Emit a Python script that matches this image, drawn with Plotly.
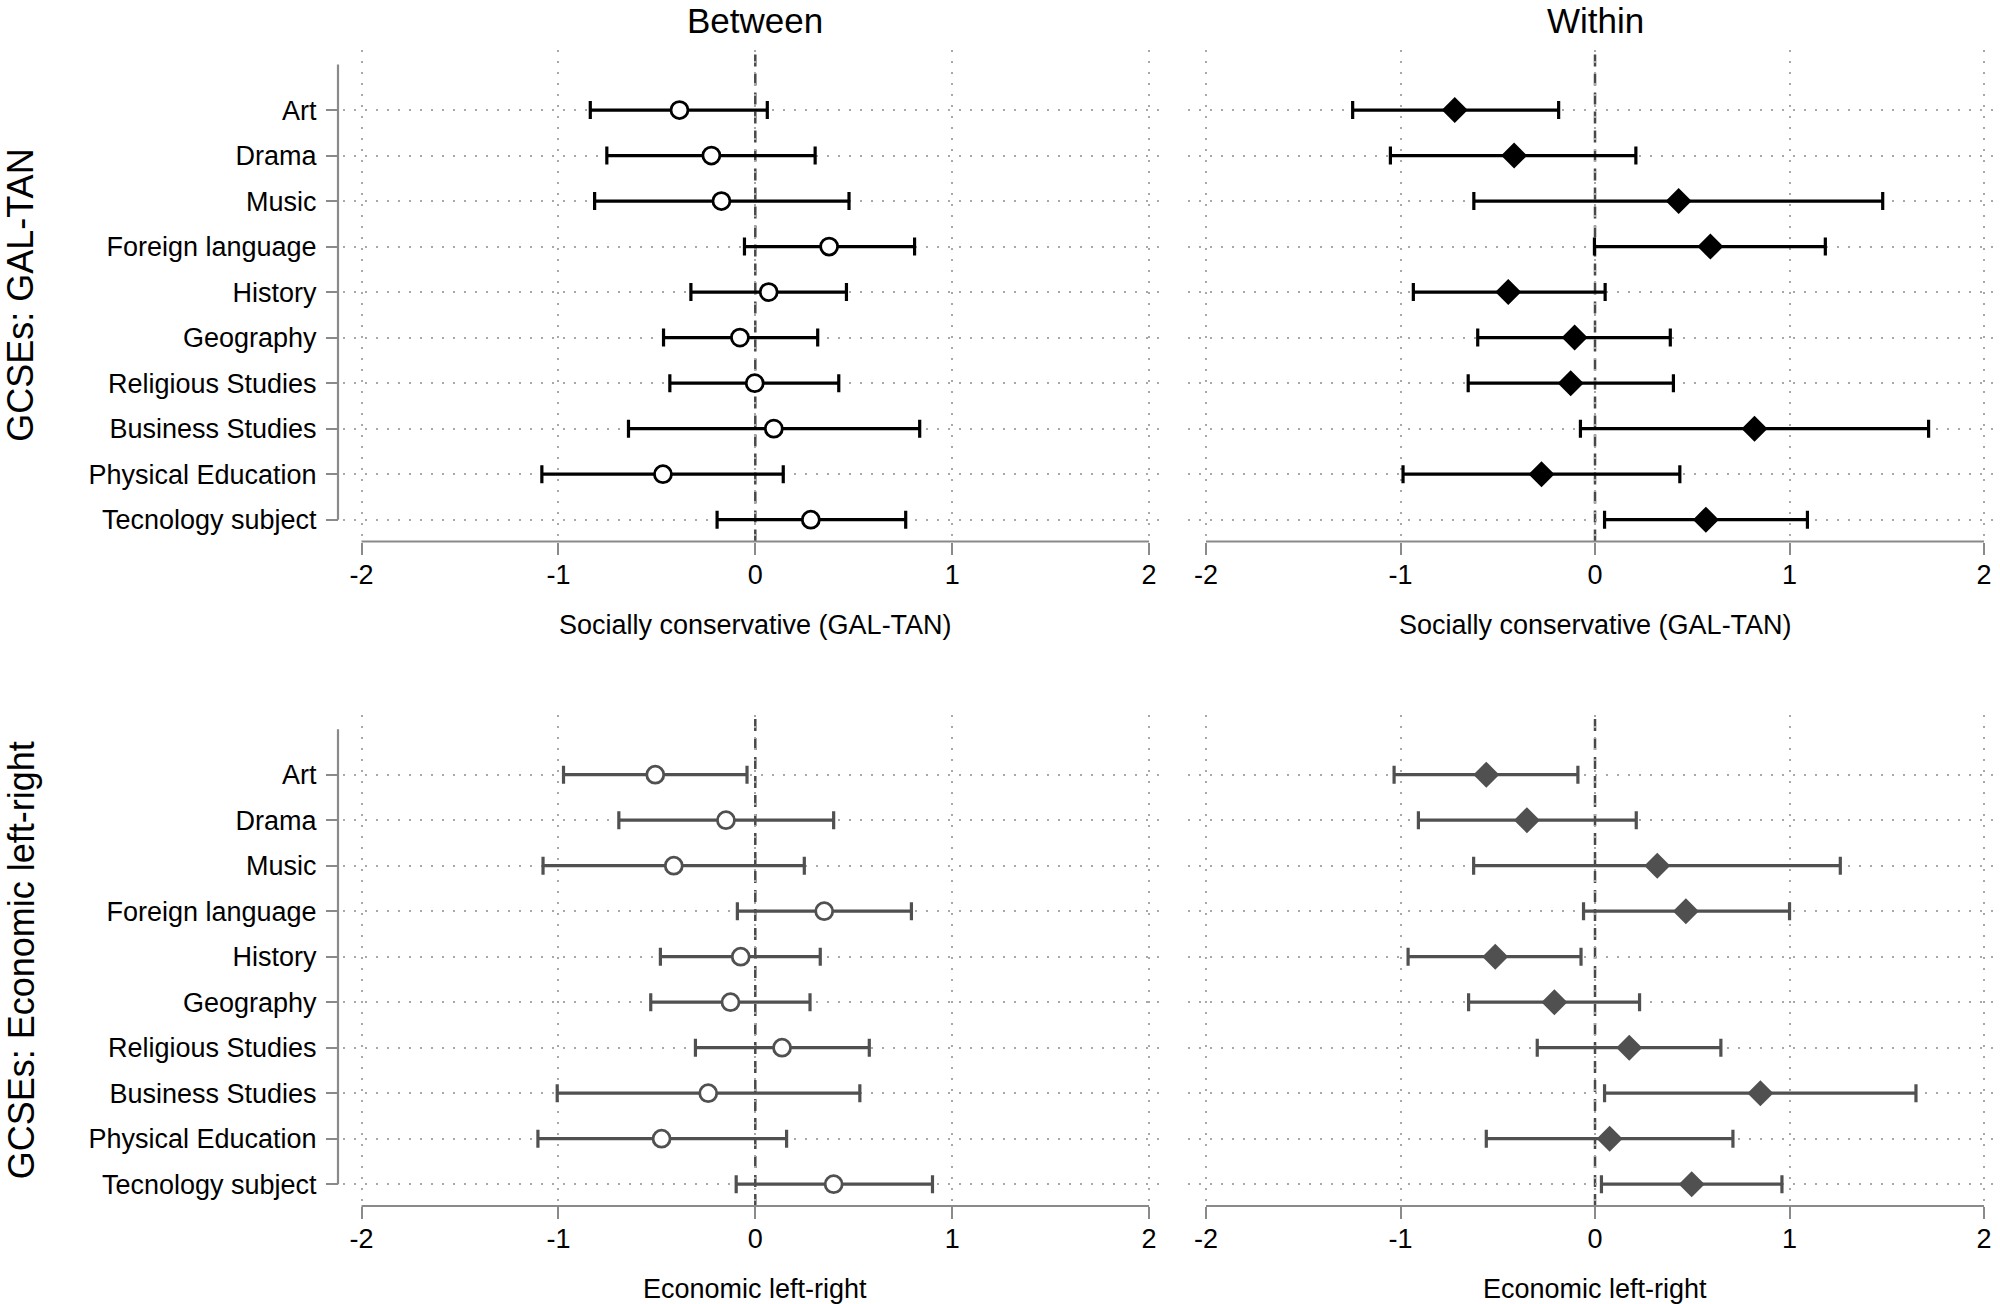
import plotly.graph_objects as go

W, H = 2000, 1304

subjects = ["Art", "Drama", "Music", "Foreign language", "History", "Geography",
            "Religious Studies", "Business Studies", "Physical Education", "Tecnology subject"]
positions = list(range(1, len(subjects) + 1))

# GAL-TAN, Between
galtan_between_est = [-0.385, -0.223, -0.172, 0.375, 0.068, -0.078, -0.003, 0.094, -0.469, 0.282]
galtan_between_lo = [-0.838, -0.754, -0.816, -0.055, -0.327, -0.466, -0.434, -0.644, -1.084, -0.194]
galtan_between_hi = [0.061, 0.304, 0.476, 0.809, 0.463, 0.317, 0.424, 0.835, 0.142, 0.764]

# GAL-TAN, Within
galtan_within_est = [-0.721, -0.416, 0.430, 0.593, -0.446, -0.105, -0.125, 0.820, -0.275, 0.570]
galtan_within_lo = [-1.246, -1.052, -0.623, -0.003, -0.934, -0.603, -0.652, -0.075, -0.987, 0.049]
galtan_within_hi = [-0.187, 0.210, 1.479, 1.184, 0.052, 0.387, 0.403, 1.715, 0.436, 1.092]

# Economic left-right, Between
econ_between_est = [-0.508, -0.149, -0.414, 0.350, -0.074, -0.126, 0.136, -0.239, -0.476, 0.398]
econ_between_lo = [-0.974, -0.693, -1.078, -0.091, -0.482, -0.531, -0.304, -1.006, -1.104, -0.097]
econ_between_hi = [-0.042, 0.398, 0.249, 0.793, 0.330, 0.278, 0.579, 0.531, 0.159, 0.900]

# Economic left-right, Within
econ_within_est = [-0.559, -0.350, 0.320, 0.467, -0.513, -0.209, 0.176, 0.850, 0.075, 0.497]
econ_within_lo = [-1.033, -0.908, -0.624, -0.059, -0.961, -0.650, -0.297, 0.049, -0.559, 0.033]
econ_within_hi = [-0.088, 0.212, 1.261, 1.000, -0.072, 0.229, 0.647, 1.650, 0.709, 0.961]

x_ticks = [-2, -1, 0, 1, 2]
col_titles = ["Between", "Within"]
row_titles = ["GCSEs: GAL-TAN", "GCSEs: Economic left-right"]
x_titles = ["Socially conservative (GAL-TAN)", "Economic left-right"]

FONT = "Liberation Sans, Arial, Helvetica, sans-serif"
TOP_COLOR = "#000000"
BOT_COLOR = "#505050"
GRID_COLOR = "#a8a8a8"
AXIS_COLOR = "#8a8a8a"


def px_x(p):
    return p / W


def px_y(p):
    return 1 - p / H


# panel geometry (pixels)
col_dom = [(343, 1166), (1188, 2000)]
col_rng = [(-2.094, 2.086), (-2.0925, 2.082)]
row_dom = [(50, 541.5), (714.6, 1206)]
y_rng = [10.48, -0.32]
yaxis_line_px = 338

fig = go.Figure()

panels = [
    # (row, col, est, lo, hi, color, symbol)
    (0, 0, galtan_between_est, galtan_between_lo, galtan_between_hi, TOP_COLOR, "circle"),
    (0, 1, galtan_within_est, galtan_within_lo, galtan_within_hi, TOP_COLOR, "diamond"),
    (1, 0, econ_between_est, econ_between_lo, econ_between_hi, BOT_COLOR, "circle"),
    (1, 1, econ_within_est, econ_within_lo, econ_within_hi, BOT_COLOR, "diamond"),
]

layout = dict(
    width=W, height=H,
    margin=dict(l=0, r=0, t=0, b=0),
    paper_bgcolor="white", plot_bgcolor="white",
    showlegend=False,
    font=dict(family=FONT, color="black", size=27),
)

shapes = []
annotations = []

for r in range(2):
    yname = "yaxis" if r == 0 else "yaxis2"
    yref = "y" if r == 0 else "y2"
    layout[yname] = dict(
        domain=[px_y(row_dom[r][1]), px_y(row_dom[r][0])],
        range=y_rng,
        anchor="free", position=px_x(yaxis_line_px),
        tickmode="array", tickvals=positions, ticktext=subjects,
        ticks="outside", ticklen=12, tickwidth=2, tickcolor=AXIS_COLOR,
        ticklabelstandoff=4,
        tickfont=dict(size=27, family=FONT, color="black"),
        showline=False, zeroline=False,
        showgrid=True, gridcolor=GRID_COLOR, gridwidth=1.6, griddash="2px,9px",
        fixedrange=True,
    )
    # y-axis line spanning the categories
    shapes.append(dict(type="line", xref="paper", yref=yref,
                       x0=px_x(yaxis_line_px), x1=px_x(yaxis_line_px), y0=0, y1=len(subjects),
                       line=dict(color=AXIS_COLOR, width=2.2), layer="above"))
    # row title
    annotations.append(dict(text=row_titles[r], xref="paper", yref="paper",
                            x=px_x(21), y=px_y((row_dom[r][0] + row_dom[r][1]) / 2),
                            textangle=-90, showarrow=False,
                            font=dict(size=36, family=FONT, color="black"),
                            xanchor="center", yanchor="middle", borderpad=0))

for (r, c, est, lo, hi, color, symbol) in panels:
    idx = r * 2 + c + 1
    xname = "xaxis" if idx == 1 else f"xaxis{idx}"
    xref = "x" if idx == 1 else f"x{idx}"
    yref = "y" if r == 0 else "y2"
    layout[xname] = dict(
        domain=[px_x(col_dom[c][0]), px_x(col_dom[c][1])],
        range=list(col_rng[c]),
        anchor=yref,
        tickmode="array", tickvals=x_ticks, ticktext=[str(v) for v in x_ticks],
        ticks="outside", ticklen=12, tickwidth=2, tickcolor=AXIS_COLOR,
        ticklabelstandoff=-3,
        tickfont=dict(size=27, family=FONT, color="black"),
        showline=False, zeroline=False,
        showgrid=True, gridcolor=GRID_COLOR, gridwidth=1.6, griddash="2px,9px",
        fixedrange=True,
    )
    plus = [h - e for h, e in zip(hi, est)]
    minus = [e - l for e, l in zip(est, lo)]
    if symbol == "circle":
        marker = dict(symbol="circle", size=17, color="white",
                      line=dict(color=color, width=2.8))
    else:
        marker = dict(symbol="diamond", size=20, color=color,
                      line=dict(color=color, width=0))
    fig.add_trace(go.Scatter(
        x=est, y=positions, mode="markers", xaxis=xref, yaxis=yref,
        marker=marker,
        error_x=dict(type="data", symmetric=False, array=plus, arrayminus=minus,
                     color=color, thickness=3.2, width=9),
        cliponaxis=False, hoverinfo="skip",
    ))
    # dashed reference line at zero
    shapes.append(dict(type="line", xref=xref, yref="paper",
                       x0=0, x1=0, y0=px_y(row_dom[r][1]), y1=px_y(row_dom[r][0]),
                       line=dict(color="#484848", width=2.5, dash="12px,7px"), layer="below"))
    # x-axis line from -2 to 2
    shapes.append(dict(type="line", xref=xref, yref="paper",
                       x0=x_ticks[0], x1=x_ticks[-1],
                       y0=px_y(row_dom[r][1]), y1=px_y(row_dom[r][1]),
                       line=dict(color=AXIS_COLOR, width=2.2), layer="above"))
    # x-axis title
    annotations.append(dict(text=x_titles[r], xref=xref, yref="paper",
                            x=0, y=px_y(row_dom[r][1] + 83),
                            showarrow=False, xanchor="center", yanchor="middle",
                            font=dict(size=27, family=FONT, color="black")))
    if r == 0:
        annotations.append(dict(text=col_titles[c], xref=xref, yref="paper",
                                x=0, y=px_y(20), showarrow=False,
                                xanchor="center", yanchor="middle", borderpad=0,
                                font=dict(size=35, family=FONT, color="black")))

layout["shapes"] = shapes
layout["annotations"] = annotations
fig.update_layout(**layout)

fig.write_html("out.html",
               config={"displayModeBar": False},
               post_script="document.body.style.margin='0';document.body.style.overflow='hidden';")
